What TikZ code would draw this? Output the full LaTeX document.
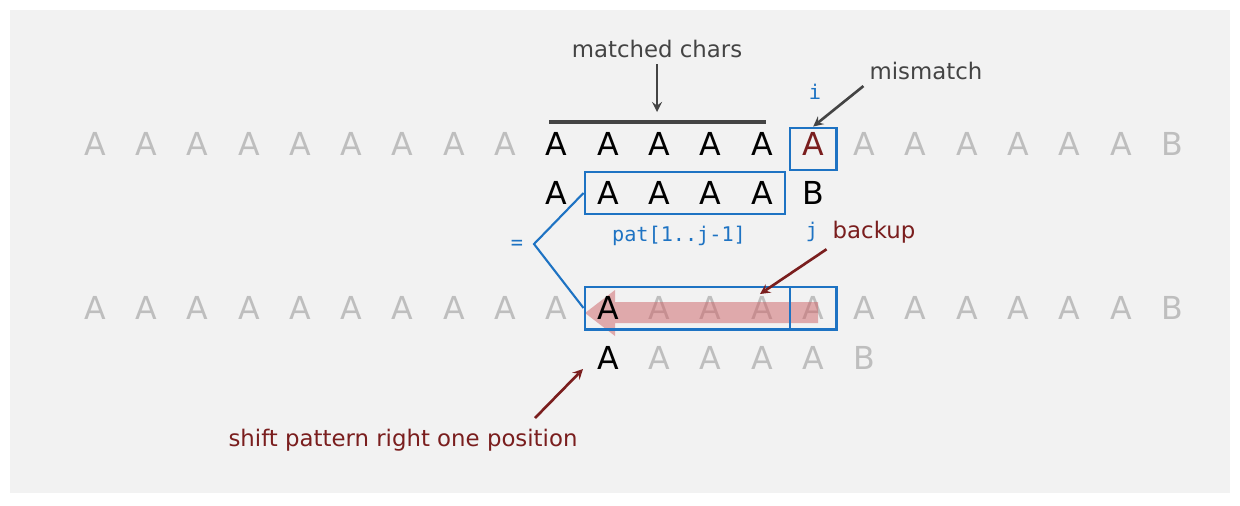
\documentclass[tikz,border=0pt]{standalone}
\usepackage{fontspec}
\setmainfont{DejaVu Sans}
\setmonofont{DejaVu Sans Mono}
\usepackage{tikz}
\usetikzlibrary{arrows, fit, positioning}
\definecolor{paper}{HTML}{F2F2F2}
\definecolor{faint}{HTML}{BEBEBE}
\definecolor{ink}{HTML}{444444}
\definecolor{kmpblue}{HTML}{1E73C3}
\definecolor{kmpred}{HTML}{7A1E1E}
\definecolor{band}{HTML}{CE6266}
\tikzset{
	letter/.style={
		rectangle,
		minimum width=0.92cm,
		minimum height=0.84cm,
		inner sep=0pt,
		text=black,
		font=\fontsize{18}{20}\selectfont
	},
	faded/.style={letter, text=faint},
	hilite/.style={
		rectangle,
		draw=kmpblue,
		line width=1.3pt,
		inner sep=0pt
	},
	note/.style={text=ink, font=\fontsize{13}{15}\selectfont},
	warn/.style={text=kmpred, font=\fontsize{13}{15}\selectfont},
	idx/.style={text=kmpblue, font=\ttfamily\fontsize{11.5}{13}\selectfont},
	arrow/.style={line width=1.5pt,->,>=stealth}
}

\begin{document}
\begin{tikzpicture}[x=0.02cm, y=-0.02cm]
				\useasboundingbox (0,0) rectangle (1240,505);
				\fill[paper] (10,10) rectangle (1230,493);
				
				% text, first try
				\foreach \k in {0,...,8} \node[faded] (t\k) at ({95+51.3*\k},144) {A};
				\foreach \k in {9,...,13} \node[letter] (t\k) at ({95+51.3*\k},144) {A};
				\node[letter, text=kmpred] (t14) at ({95+51.3*14},144) {A};
				\foreach \k in {15,...,20} \node[faded] (t\k) at ({95+51.3*\k},144) {A};
				\node[faded] (t21) at ({95+51.3*21},144) {B};
				
				% pattern, first try
				\foreach \k in {9,...,13} \node[letter] (p\k) at ({95+51.3*\k},193) {A};
				\node[letter] (p14) at ({95+51.3*14},193) {B};
				
				% text, second try
				\foreach \k in {0,...,9} \node[faded] (u\k) at ({95+51.3*\k},308) {A};
				\foreach \k in {11,...,20} \node[faded] (u\k) at ({95+51.3*\k},308) {A};
				\node[faded] (u21) at ({95+51.3*21},308) {B};
				
				% pattern, shifted one position
				\node[letter] (q10) at ({95+51.3*10},358) {A};
				\foreach \k in {11,...,14} \node[faded] (q\k) at ({95+51.3*\k},358) {A};
				\node[faded] (q15) at ({95+51.3*15},358) {B};
				
				\fill[band, opacity=0.5] (818,302) -- (615,302) -- (615,290) -- (585,313) -- (615,336) -- (615,323) -- (818,323) -- cycle;
				\node[letter] (u10) at ({95+51.3*10},308) {A};
				
				\node[hilite, fit=(t14), yshift=-0.1cm] (mmbox) {};
				\node[hilite, fit=(p10)(p13)] (matchbox) {};
				\node[hilite, fit=(u10)(u14.west)] (shiftbox) {};
				\node[hilite, fit=(u14)] (nextbox) {};
				
				\node[note] (matched) at (657,49) {matched chars};
				\node[note] (mismatch) at (926,71) {mismatch};
				\node[idx] (iidx) at (815,92) {i};
				\node[idx] (patlabel) at (679,236) {pat[1..j-1]};
				\node[idx] (jidx) at (812,232) {j};
				\node[warn] (backup) at (874,232) {backup};
				\node[idx] (eq) at (517,245) {=};
				\node[warn] (shift) at (403,440) {shift pattern right one position};
				
				\coordinate (barleft) at (549,122);
				\coordinate (barright) at (766,122);
				\coordinate (barmid) at (657,112);
				\coordinate (eqvertex) at (534,244);
				\coordinate (backuptip) at (760,294);
				\coordinate (shifttail) at (535,418);
				\coordinate (shifttip) at (583,369);
				
				\draw [ink, line width=2pt] (barleft) -- (barright);
				\draw [arrow, ink] (matched.south) -- (barmid);
				\draw [arrow, ink] (mismatch.south west) -- (mmbox.north);
				\draw [kmpblue, line width=1.2pt] (matchbox.west) -- (eqvertex) -- (shiftbox.west);
				\draw [arrow, kmpred] (backup.south west) -- (backuptip);
				\draw [arrow, kmpred] (shifttail) -- (shifttip);
			\end{tikzpicture}
\end{document}
